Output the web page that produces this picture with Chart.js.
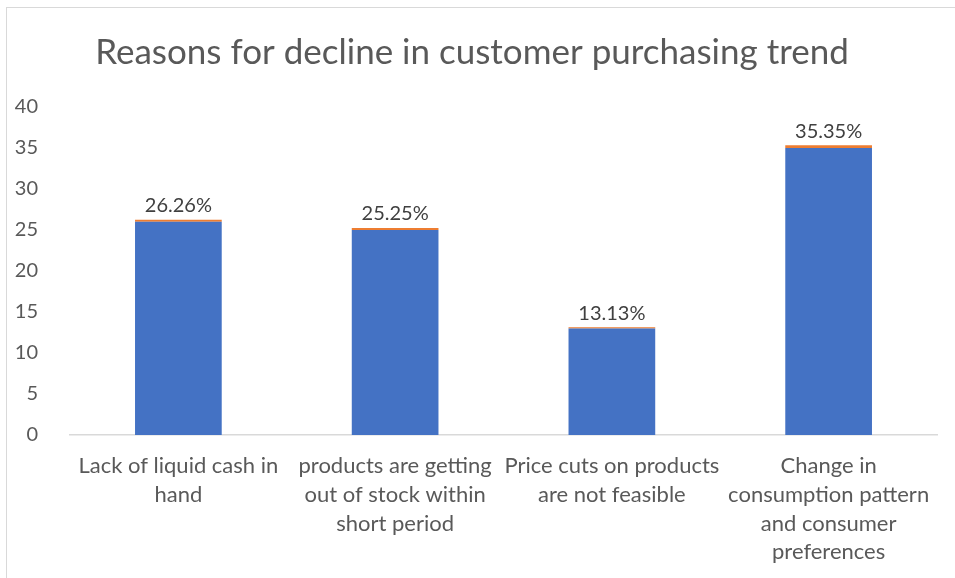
<!DOCTYPE html>
<html>
<head>
<meta charset="utf-8">
<script src="https://cdn.jsdelivr.net/npm/chart.js@4"></script>
<style>
  body { margin: 0; background: #fff; }
  #wrap { position: absolute; left: 6px; top: 7px; width: 955px; height: 578px;
          border-left: 1px solid #d9d9d9; border-top: 1px solid #d9d9d9; }
  canvas { display: block; }
</style>
</head>
<body>
<div id="wrap"><canvas id="chart" width="949" height="571"></canvas></div>
<script>
/* ---------- data ---------- */
const categories = [
  ['Lack of liquid cash in', 'hand'],
  ['products are getting', 'out of stock within', 'short period'],
  ['Price cuts on products', 'are not feasible'],
  ['Change in', 'consumption pattern', 'and consumer', 'preferences']
];
const mainValues  = [26, 25, 13, 35];
const topValues   = [0.26, 0.25, 0.13, 0.35];
const valueLabels = ['26.26%', '25.25%', '13.13%', '35.35%'];
const yTicks      = [0, 5, 10, 15, 20, 25, 30, 35, 40];

const FONT = 'Lato, "Open Sans", sans-serif';
const GREY = '#595959';

/* ---------- labels above bars ---------- */
const topLabels = {
  id: 'topLabels',
  afterDatasetsDraw(chart) {
    const ctx = chart.ctx;
    const meta = chart.getDatasetMeta(1);
    ctx.save();
    ctx.font = '20px ' + FONT;
    ctx.fillStyle = '#404040';
    ctx.textAlign = 'center';
    ctx.textBaseline = 'bottom';
    meta.data.forEach((bar, i) => {
      ctx.fillText(valueLabels[i], bar.x, bar.y - 4);
    });
    ctx.restore();
  }
};

new Chart(document.getElementById('chart'), {
  type: 'bar',
  data: {
    labels: categories,
    datasets: [
      { data: mainValues, backgroundColor: '#4472C4', barPercentage: 0.4, categoryPercentage: 1 },
      { data: topValues, backgroundColor: '#ED7D31', barPercentage: 0.4, categoryPercentage: 1 }
    ]
  },
  options: {
    responsive: false,
    animation: false,
    layout: { padding: { left: 0, right: 19, top: 24, bottom: 0 } },
    plugins: {
      legend: { display: false },
      tooltip: { enabled: false },
      title: {
        display: true,
        text: 'Reasons for decline in customer purchasing trend',
        color: GREY,
        font: { family: FONT, size: 35, weight: 'normal', lineHeight: 1.2 },
        padding: { top: 0, bottom: 33 }
      }
    },
    scales: {
      x: {
        stacked: true,
        afterFit(axis) { axis.height = 144; },
        grid: { display: false },
        border: { color: '#d9d9d9', width: 1.5 },
        ticks: { color: GREY, font: { family: FONT, size: 22, lineHeight: 1.3 }, maxRotation: 0, autoSkip: false, padding: 9 }
      },
      y: {
        stacked: true,
        min: 0, max: 40,
        afterBuildTicks(axis) { axis.ticks = yTicks.map(v => ({ value: v })); },
        afterFit(axis) { axis.width = 63; },
        grid: { display: false },
        border: { display: false },
        ticks: { color: GREY, font: { family: FONT, size: 20 }, padding: 24 }
      }
    }
  },
  plugins: [topLabels]
});
</script>
</body>
</html>
